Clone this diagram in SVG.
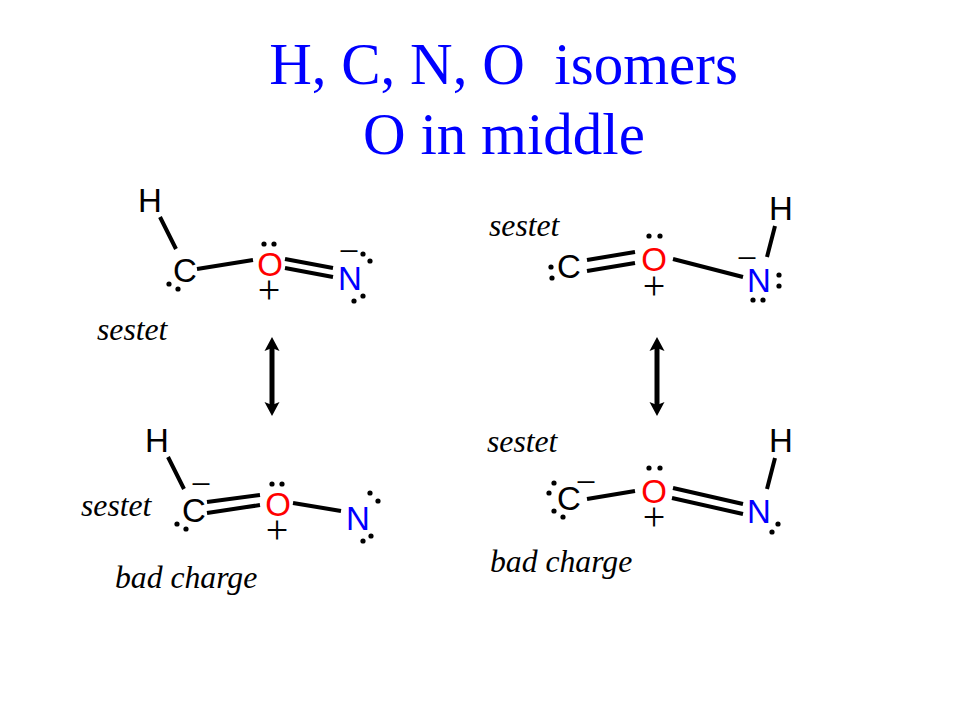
<svg xmlns="http://www.w3.org/2000/svg" width="960" height="720" viewBox="0 0 960 720">
<style>
.t{font-family:"Liberation Serif","Times New Roman",serif;font-size:59px;fill:#0000ff;text-anchor:middle}
.a{font-family:"Liberation Sans",Arial,sans-serif;font-size:33px;text-anchor:middle}
.k{fill:#000}.r{fill:#f00}.b{fill:#00f}
.c{font-family:"Liberation Serif","Times New Roman",serif;font-size:40px;fill:#000;text-anchor:middle}
.m{font-family:"Liberation Serif","Times New Roman",serif;font-size:33px;fill:#000;text-anchor:middle}
.n{font-family:"Liberation Serif","Times New Roman",serif;font-style:italic;font-size:31.700px;fill:#000}
.l{stroke:#000;stroke-width:4;fill:none}
.h{stroke:#000;stroke-width:5;fill:none;marker-start:url(#ah);marker-end:url(#ah)}
.d{fill:#000}
circle{r:2.600px}
</style>
<defs>
<marker id="ah" markerUnits="userSpaceOnUse" markerWidth="16" markerHeight="16" refX="6" refY="8" orient="auto-start-reverse"><path d="M0 .5L14 8L0 15.500L3 8Z" fill="#000"/></marker>
</defs>
<rect width="960" height="720" fill="#fff"/>
<g id="title">
<text class="t" x="503.500" y="84" xml:space="preserve">H, C, N, O  isomers</text>
<text class="t" x="504" y="154">O in middle</text>
</g>
<g id="connectors">
<path class="l" d="M160 217L176 249M197 269L253 260M285 259L333 268M285 268L333 277"/>
<path class="l" d="M775 226L767 257M587 260L635 252M587 271L635 263M673 259L743 277"/>
<path class="l" d="M168 457L184 489M207 502L260 495M207 513L260 505M293 503L341 511"/>
<path class="l" d="M775 458L767 489M587 499L635 491M673 488L743 504M672 498L743 514"/>
<path class="h" d="M272 345V408"/>
<path class="h" d="M657 345V408"/>
</g>
<g id="isomer-top-left">
<text class="a k" x="150" y="212">H</text><text class="a k" x="185" y="282">C</text><text class="a r" x="270" y="276">O</text><text class="a b" x="350" y="290">N</text>
<text class="c" x="269" y="303">+</text><text class="m" x="349" y="259">–</text>
<g class="d"><circle cx="169" cy="284"/><circle cx="178" cy="289"/><circle cx="264" cy="244"/><circle cx="274" cy="244"/><circle cx="363" cy="254"/><circle cx="370" cy="261"/><circle cx="363" cy="296"/><circle cx="354" cy="301"/></g>
<text class="n" x="97" y="340">sestet</text>
</g>
<g id="isomer-top-right">
<text class="a k" x="781" y="220">H</text><text class="a k" x="569" y="278">C</text><text class="a r" x="654" y="271">O</text><text class="a b" x="759" y="292">N</text>
<text class="c" x="654" y="299">+</text><text class="m" x="747" y="266">–</text>
<g class="d"><circle cx="551" cy="267"/><circle cx="552" cy="278"/><circle cx="649" cy="236"/><circle cx="660" cy="236"/><circle cx="779" cy="275"/><circle cx="779" cy="286"/><circle cx="753" cy="300"/><circle cx="763" cy="300"/></g>
<text class="n" x="489" y="236">sestet</text>
</g>
<g id="isomer-bottom-left">
<text class="a k" x="157" y="452">H</text><text class="a k" x="194" y="522">C</text><text class="a r" x="278" y="516">O</text><text class="a b" x="358" y="530">N</text>
<text class="c" x="277" y="543">+</text><text class="m" x="201" y="492">–</text>
<g class="d"><circle cx="177" cy="524"/><circle cx="186" cy="529"/><circle cx="272" cy="484"/><circle cx="282" cy="484"/><circle cx="370" cy="493"/><circle cx="378" cy="501"/><circle cx="371" cy="536"/><circle cx="363" cy="541"/></g>
<text class="n" x="81" y="516">sestet</text>
<text class="n" x="115" y="588">bad charge</text>
</g>
<g id="isomer-bottom-right">
<text class="a k" x="781" y="452">H</text><text class="a k" x="569" y="510">C</text><text class="a r" x="654" y="503">O</text><text class="a b" x="759" y="523">N</text>
<text class="c" x="654" y="530">+</text><text class="m" x="586" y="490">–</text>
<g class="d"><circle cx="554" cy="483"/><circle cx="549" cy="493"/><circle cx="554" cy="511"/><circle cx="563" cy="517"/><circle cx="649" cy="468"/><circle cx="660" cy="468"/><circle cx="778" cy="524"/><circle cx="772" cy="532"/></g>
<text class="n" x="487" y="452">sestet</text>
<text class="n" x="490" y="572">bad charge</text>
</g>
</svg>
